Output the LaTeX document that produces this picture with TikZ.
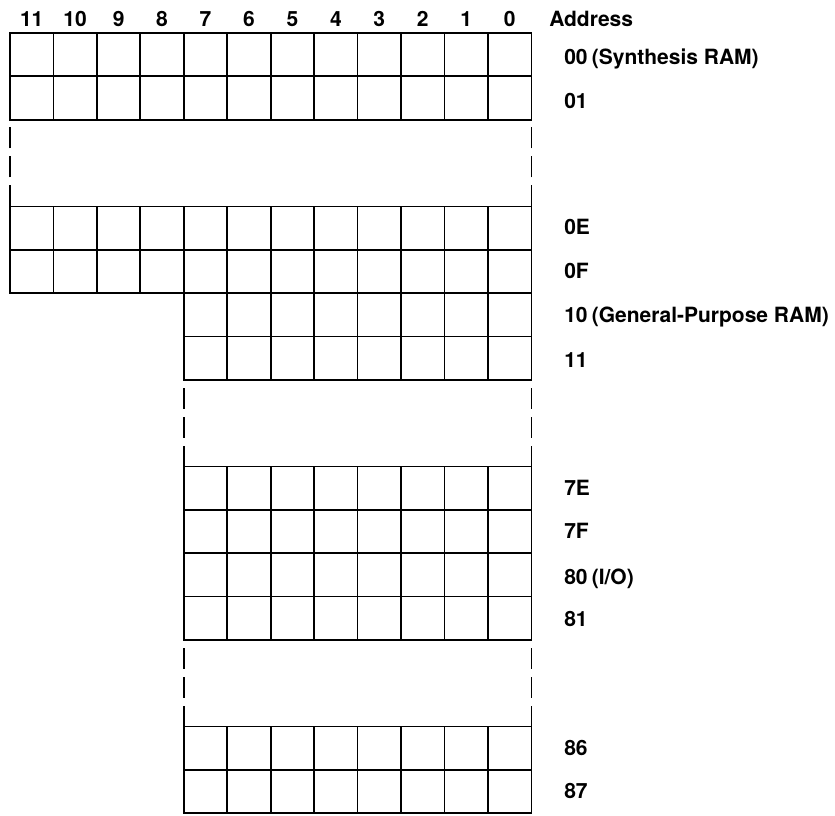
\documentclass[tikz,border=0pt]{standalone}
\usepackage{fontspec}
\setmainfont{TeX Gyre Heros}
\begin{document}
\begin{tikzpicture}[x=0.75pt,y=-0.75pt,
  cell/.style={line width=1.3pt, line cap=rect},
  gapline/.style={line width=1.3pt, dash pattern=on 15.75pt off 6pt},
  txt/.style={font=\fontsize{15.75}{18}\selectfont\bfseries, inner sep=0pt},
  lab/.style={txt, anchor=base west},
  hdr/.style={txt, anchor=base}]
\useasboundingbox (0,0) rectangle (835,815);
\def\cw{43.45}
\def\rh{43.35}
% Block A: rows 0-1, 12 columns
\foreach \r in {0,1,2} \draw[cell] (10,33+\r*\rh) -- (10+12*\cw,33+\r*\rh);
\foreach \c in {0,...,12} \draw[cell] (10+\c*\cw,33) -- (10+\c*\cw,33+2*\rh);
% gap 1
\draw[gapline] (10,33+4*\rh) -- (10,33+2*\rh);
\draw[gapline] (10+12*\cw,33+4*\rh) -- (10+12*\cw,33+2*\rh);
% Block B
\foreach \r in {4,5,6} \draw[cell] (10,33+\r*\rh) -- (10+12*\cw,33+\r*\rh);
\foreach \r in {7,8} \draw[cell] (10+4*\cw,33+\r*\rh) -- (10+12*\cw,33+\r*\rh);
\foreach \c in {0,...,3} \draw[cell] (10+\c*\cw,33+4*\rh) -- (10+\c*\cw,33+6*\rh);
\foreach \c in {4,...,12} \draw[cell] (10+\c*\cw,33+4*\rh) -- (10+\c*\cw,33+8*\rh);
% gap 2
\draw[gapline] (10+4*\cw,33+10*\rh) -- (10+4*\cw,33+8*\rh);
\draw[gapline] (10+12*\cw,33+10*\rh) -- (10+12*\cw,33+8*\rh);
% Block C
\foreach \r in {10,...,14} \draw[cell] (10+4*\cw,33+\r*\rh) -- (10+12*\cw,33+\r*\rh);
\foreach \c in {4,...,12} \draw[cell] (10+\c*\cw,33+10*\rh) -- (10+\c*\cw,33+14*\rh);
% gap 3
\draw[gapline] (10+4*\cw,33+16*\rh) -- (10+4*\cw,33+14*\rh);
\draw[gapline] (10+12*\cw,33+16*\rh) -- (10+12*\cw,33+14*\rh);
% Block D
\foreach \r in {16,17,18} \draw[cell] (10+4*\cw,33+\r*\rh) -- (10+12*\cw,33+\r*\rh);
\foreach \c in {4,...,12} \draw[cell] (10+\c*\cw,33+16*\rh) -- (10+\c*\cw,33+18*\rh);
% header bit numbers
\foreach \c in {0,...,11} {
  \pgfmathtruncatemacro{\bit}{11-\c}
  \node[hdr] (bit\bit) at (10+\c*\cw+0.5*\cw,26) {\bit};
}
\node[lab] (addr) at (549,26) {Address};
% address labels
\node[lab] (a00) at (564,64) {00\kern0.2em(Synthesis RAM)};
\node[lab] (a01) at (564,108) {01};
\node[lab] (a0E) at (564,234) {0E};
\node[lab] (a0F) at (564,278) {0F};
\node[lab] (a10) at (564,322) {10\kern0.2em(General-Purpose RAM)};
\node[lab] (a11) at (564,367) {11};
\node[lab] (a7E) at (564,495) {7E};
\node[lab] (a7F) at (564,538) {7F};
\node[lab] (a80) at (564,584) {80\kern0.2em(I/O)};
\node[lab] (a81) at (564,626) {81};
\node[lab] (a86) at (564,755) {86};
\node[lab] (a87) at (564,798) {87};
\end{tikzpicture}
\end{document}
